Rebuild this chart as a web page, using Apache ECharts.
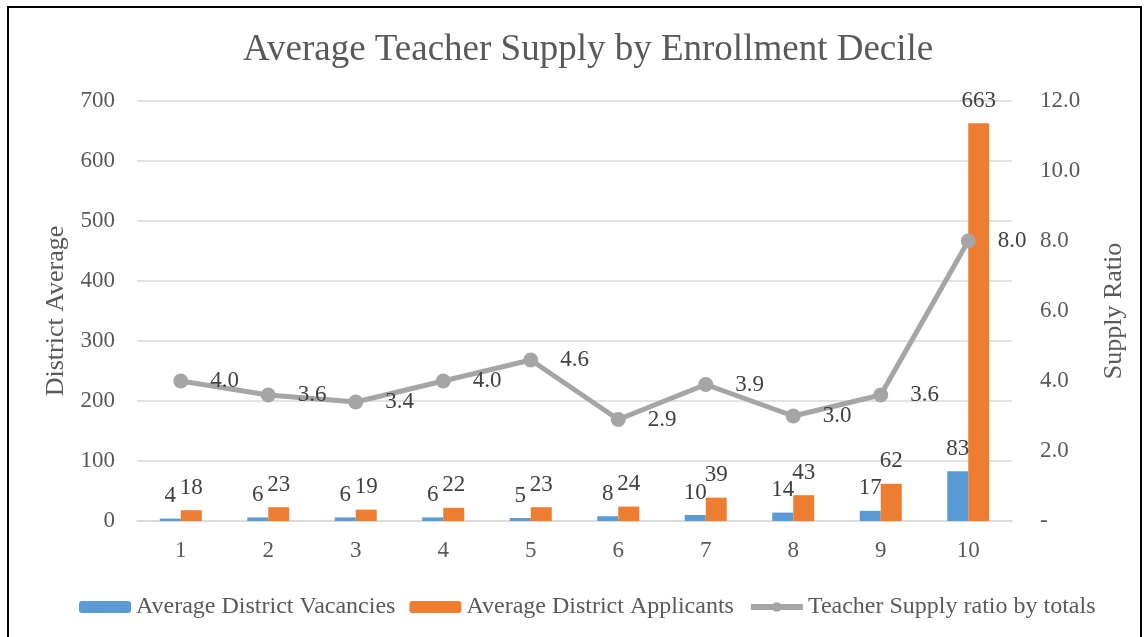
<!DOCTYPE html>
<html>
<head>
<meta charset="utf-8">
<script src="https://cdn.jsdelivr.net/npm/echarts@6/dist/echarts.min.js"></script>
<style>
  html, body { margin: 0; padding: 0; background: #fff; }
  #chart { position: absolute; left: 0; top: 0; width: 1145px; height: 637px; }
  #frame { position: absolute; left: 7px; top: 6px; width: 1131px; height: 700px; border: 2px solid #000; pointer-events: none; }
</style>
</head>
<body>
<div id="chart"></div>
<div id="frame"></div>
<script>
// 数据
const deciles = ["1", "2", "3", "4", "5", "6", "7", "8", "9", "10"];
const vacancies = [4, 6, 6, 6, 5, 8, 10, 14, 17, 83];
const applicants = [18, 23, 19, 22, 23, 24, 39, 43, 62, 663];
const supplyRatio = [4.0, 3.6, 3.4, 4.0, 4.6, 2.9, 3.9, 3.0, 3.6, 8.0];

const font = "Liberation Serif";
const tickColor = "#595959";
const labelColor = "#404040";

const chart = echarts.init(document.getElementById("chart"));

const option = {
  textStyle: { fontFamily: font },
  title: {
    text: "Average Teacher Supply by Enrollment Decile",
    left: 238,
    top: 27,
    textStyle: { fontFamily: font, fontSize: 37, fontWeight: "normal", color: tickColor },
  },
  legend: {
    left: 74,
    top: 590,
    itemWidth: 52,
    itemHeight: 12,
    itemGap: 14,
    textStyle: { fontFamily: font, fontSize: 24, color: tickColor },
    data: [
      { name: "Average District Vacancies" },
      { name: "Average District Applicants" },
      { name: "Teacher Supply ratio by totals", lineStyle: { width: 6 } },
    ],
  },
  grid: { left: 137, right: 133, top: 101, bottom: 116 },
  xAxis: {
    type: "category",
    data: deciles,
    axisLine: { lineStyle: { color: "#D9D9D9", width: 1.5 } },
    axisTick: { show: false },
    axisLabel: { fontFamily: font, fontSize: 23, color: tickColor, margin: 18 },
  },
  yAxis: [
    {
      type: "value",
      min: 0,
      max: 700,
      interval: 100,
      name: "District Average",
      nameLocation: "middle",
      nameGap: 66,
      nameTextStyle: { fontFamily: font, fontSize: 26, color: tickColor },
      axisLine: { show: false },
      axisTick: { show: false },
      axisLabel: { fontFamily: font, fontSize: 23, color: tickColor, margin: 22 },
      splitLine: { lineStyle: { color: "#D9D9D9", width: 1.5 } },
    },
    {
      type: "value",
      min: 0,
      max: 12,
      interval: 2,
      name: "Supply Ratio",
      nameLocation: "middle",
      nameGap: 89,
      nameTextStyle: { fontFamily: font, fontSize: 26, color: tickColor },
      axisLine: { show: false },
      axisTick: { show: false },
      splitLine: { show: false },
      axisLabel: {
        fontFamily: font,
        fontSize: 23,
        color: tickColor,
        margin: 28,
        formatter: (v) => (v === 0 ? "-" : v.toFixed(1)),
      },
    },
  ],
  series: [
    {
      name: "Average District Vacancies",
      type: "bar",
      data: vacancies,
      barWidth: 21,
      barGap: "0%",
      itemStyle: { color: "#5B9BD5" },
      label: { show: true, position: "top", distance: 11, fontFamily: font, fontSize: 23, color: labelColor },
    },
    {
      name: "Average District Applicants",
      type: "bar",
      data: applicants,
      barWidth: 21,
      itemStyle: { color: "#ED7D31" },
      label: { show: true, position: "top", distance: 11, fontFamily: font, fontSize: 23, color: labelColor },
    },
    {
      name: "Teacher Supply ratio by totals",
      type: "line",
      yAxisIndex: 1,
      data: supplyRatio,
      symbol: "circle",
      symbolSize: 15,
      lineStyle: { color: "#A5A5A5", width: 5 },
      itemStyle: { color: "#A5A5A5" },
      label: {
        show: true,
        position: "right",
        distance: 22,
        fontFamily: font,
        fontSize: 23,
        color: labelColor,
        formatter: (p) => p.value.toFixed(1),
      },
      z: 5,
    },
  ],
};

chart.setOption(option);
</script>
</body>
</html>
